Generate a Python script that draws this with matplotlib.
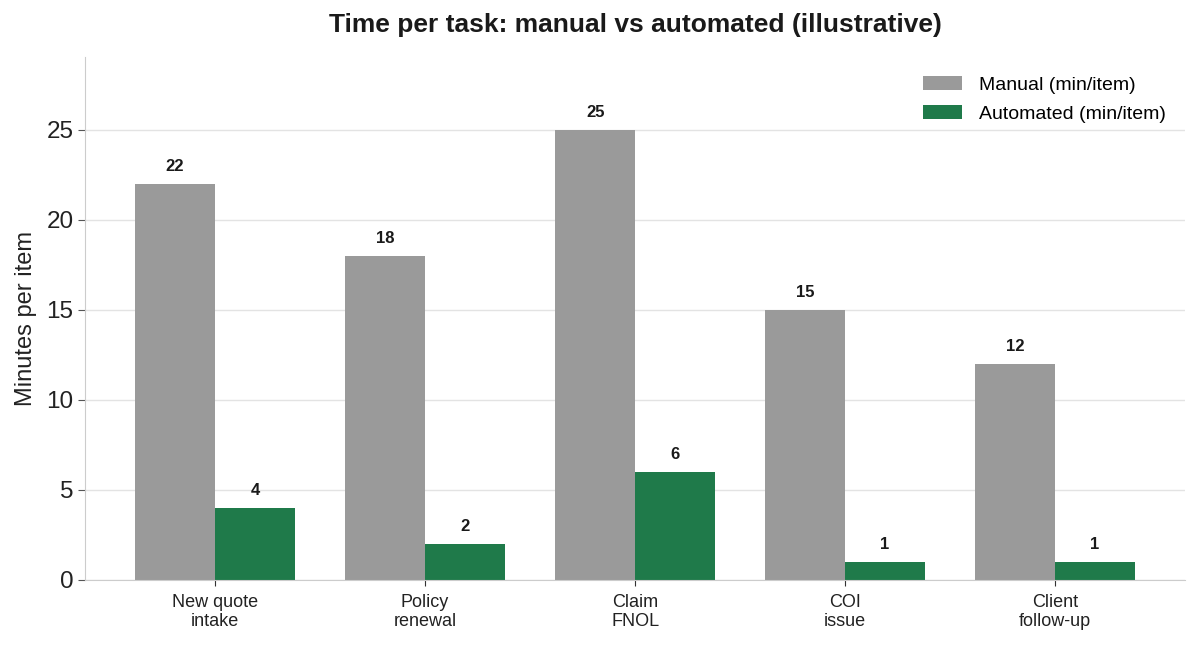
import matplotlib.pyplot as plt
import numpy as np

tareas = ["New quote\nintake", "Policy\nrenewal", "Claim\nFNOL", "COI\nissue", "Client\nfollow-up"]
manual = [22, 18, 25, 15, 12]
automatizado = [4, 2, 6, 1, 1]

plt.rcParams["font.family"] = ["Liberation Sans", "DejaVu Sans"]

fig, ax = plt.subplots(figsize=(12, 6.45), dpi=100)
fig.subplots_adjust(left=0.071, right=0.9875, top=0.912, bottom=0.101)

x = np.arange(len(tareas))
ancho = 0.38
b1 = ax.bar(x - ancho / 2, manual, ancho, color="#9a9a9a", label="Manual (min/item)", zorder=2)
b2 = ax.bar(x + ancho / 2, automatizado, ancho, color="#1f7a4a", label="Automated (min/item)", zorder=2)

for barras in (b1, b2):
    for b in barras:
        ax.annotate(f"{b.get_height():g}", (b.get_x() + b.get_width() / 2, b.get_height()),
                    xytext=(0, 7), textcoords="offset points", ha="center", va="bottom",
                    fontsize=12, fontweight="bold", color="#1a1a1a")

ax.set_ylim(0, 29.05)
ax.set_xticks(x)
ax.set_xticklabels(tareas, fontsize=13, color="#222222", linespacing=1.15)
ax.tick_params(axis="y", labelsize=17.5, colors="#222222", length=5, color="#555555")
ax.tick_params(axis="x", length=4, color="#333333", pad=6)
ax.set_ylabel("Minutes per item", fontsize=17, color="#222222", labelpad=7)
ax.set_title("Time per task: manual vs automated (illustrative)", fontsize=19,
             fontweight="bold", color="#1a1a1a", pad=18)

ax.yaxis.grid(True, color="#e3e3e3", linewidth=1, zorder=0)
ax.set_axisbelow(True)
for lado in ["top", "right"]:
    ax.spines[lado].set_visible(False)
for lado in ["left", "bottom"]:
    ax.spines[lado].set_color("#cccccc")

ax.legend(loc="upper right", frameon=False, fontsize=14, handlelength=2.0,
          handletextpad=0.85, borderaxespad=0.6, labelspacing=0.6)

plt.savefig("out.png")
